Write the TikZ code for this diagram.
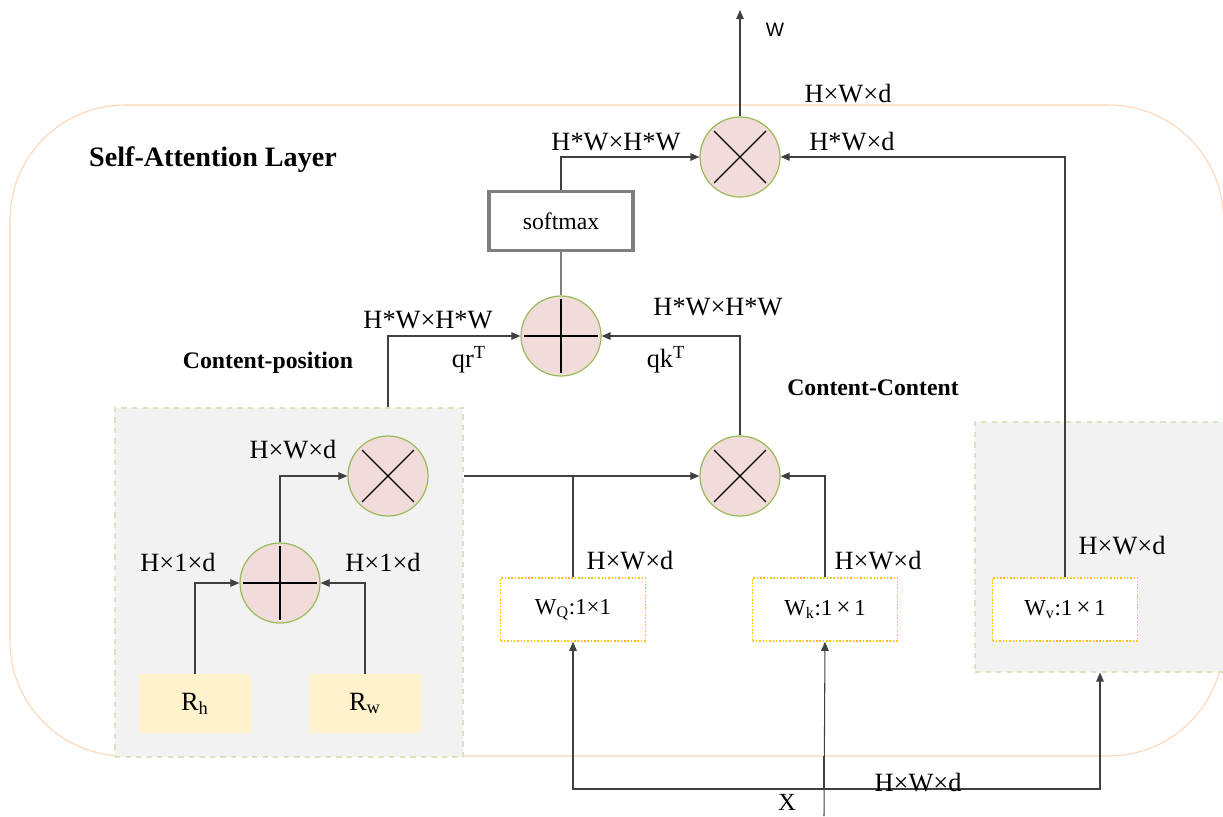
\documentclass[tikz,border=0pt]{standalone}
\usepackage{fontspec}
\setmainfont{Liberation Serif}
\newfontfamily\sanslabel{Liberation Sans}
\usetikzlibrary{arrows.meta, positioning}

\definecolor{opfill}{HTML}{F2DCDB}
\definecolor{opline}{HTML}{9BBB59}
\definecolor{grpfill}{HTML}{F2F2F2}
\definecolor{grpline}{HTML}{D7E4BD}
\definecolor{convline}{HTML}{FFC000}
\definecolor{posfill}{HTML}{FFF2CC}
\definecolor{layerline}{HTML}{FBD5B5}
\definecolor{wireline}{HTML}{404040}
\definecolor{softline}{HTML}{7F7F7F}

\begin{document}
\begin{tikzpicture}[
        x=0.2mm, y=-0.2mm,
        font=\fontsize{15}{18}\selectfont,
        mulop/.style={circle, draw=opline, fill=opfill, line width=0.7pt, minimum size=16mm, inner sep=0pt,
            path picture={\draw[black, line width=0.7pt]
                ([shift={(-26,-26)}]path picture bounding box.center) -- ([shift={(26,26)}]path picture bounding box.center)
                ([shift={(-26,26)}]path picture bounding box.center) -- ([shift={(26,-26)}]path picture bounding box.center);}},
        addop/.style={circle, draw=opline, fill=opfill, line width=0.7pt, minimum size=16mm, inner sep=0pt,
            path picture={\draw[black, line width=0.7pt]
                ([shift={(-37,0)}]path picture bounding box.center) -- ([shift={(37,0)}]path picture bounding box.center)
                ([shift={(0,-37)}]path picture bounding box.center) -- ([shift={(0,37)}]path picture bounding box.center);}},
        grpbox/.style={rectangle, draw=grpline, dashed, fill=grpfill, line width=0.6pt, inner sep=0pt},
        convbox/.style={rectangle, draw=convline, densely dotted, fill=white, line width=0.9pt, minimum width=29mm, minimum height=12.6mm, font=\fontsize{13}{15}\selectfont},
        posbox/.style={rectangle, fill=posfill, minimum width=22.4mm, minimum height=11.8mm},
        softbox/.style={rectangle, draw=softline, line width=2.2pt, fill=white, minimum width=28.8mm, minimum height=11.8mm, font=\fontsize{13.5}{16}\selectfont},
        wire/.style={draw=wireline, line width=0.6pt},
        arrow/.style={wire, -{Triangle[length=1.8mm, width=1.5mm]}},
        heading/.style={font=\fontsize{16}{19}\selectfont\bfseries, inner sep=0pt},
        subheading/.style={font=\fontsize{13.5}{16}\selectfont\bfseries, inner sep=0pt},
        dim/.style={inner sep=0pt}
    ]
    \useasboundingbox (0,0) rectangle (1223,816);

    % layer frame and groups
    \draw[layerline, line width=0.6pt, rounded corners=23mm] (10,105) rectangle (1223.5,756);
    \node (posgrp) [grpbox, minimum width=69.6mm, minimum height=69.8mm] at (289,582.5) {};
    \node (vgrp) [grpbox, minimum width=51mm, minimum height=50mm] at (1102.5,547) {};

    % operators
    \node (mulTop) [mulop] at (740,157) {};
    \node (addMid) [addop] at (561,336) {};
    \node (mulCC) [mulop] at (740,476) {};
    \node (mulPos) [mulop] at (388,476) {};
    \node (addPos) [addop] at (280,583) {};

    % boxes
    \node (softmax) [softbox] at (561,221) {softmax};
    \node (wq) [convbox] at (573,609.5) {W\textsubscript{Q}:1×1};
    \node (wk) [convbox] at (825,609.5) {W\textsubscript{k}:1\,{\Large×}\,1};
    \node (wv) [convbox] at (1065,609.5) {W\textsubscript{v}:1\,{\Large×}\,1};
    \node (rh) [posbox] at (195,703.5) {R\textsubscript{h}};
    \node (rw) [posbox] at (365,703.5) {R\textsubscript{w}};

    % free ends
    \coordinate (outW) at (740,10);
    \coordinate (xin) at (824,816);
    \coordinate (bus) at (824,789);

    % connectors
    \draw[arrow] (mulTop) -- (outW);
    \draw[arrow] (softmax.north) |- (mulTop.west);
    \draw[wire, draw=gray] (addMid.north) -- (softmax.south);
    \draw[arrow] (wv.north) |- (mulTop.east);
    \draw[arrow] (posgrp.north -| mulPos) |- (addMid.west);
    \draw[arrow] (mulCC.north) |- (addMid.east);
    \draw[arrow] (posgrp.east |- mulPos) -- (mulCC.west);
    \draw[wire] (wq.north) -- (wq.north |- mulCC);
    \draw[arrow] (wk.north) |- (mulCC.east);
    \draw[arrow] (addPos.north) |- (mulPos.west);
    \draw[arrow] (rh.north) |- (addPos.west);
    \draw[arrow] (rw.north) |- (addPos.east);
    \draw[arrow] (xin) -- (wk.south);
    \draw[wire, line width=1.4pt] (bus) -- ++(0,-33);
    \draw[arrow] (bus) -| (wq.south);
    \draw[arrow] (bus) -| (vgrp.south -| 1100,0);

    % labels
    \node (lblW) [dim, font=\sanslabel\fontsize{11}{13}\selectfont] at (775,30) {W};
    \node (lblX) [dim, font=\fontsize{14}{16}\selectfont] at (787,802) {X};
    \node (title) [heading] at (213,160) {Self-Attention Layer};
    \node (cpos) [subheading] at (268,363) {Content-position};
    \node (ccon) [subheading] at (873,388) {Content-Content};
    \node (dimOut) [dim] at (848,94) {H×W×d};
    \node (dimAttn) [dim] at (616,142) {H*W×H*W};
    \node (dimV) [dim] at (852,142) {H*W×d};
    \node (dimQR) [dim] at (428,320) {H*W×H*W};
    \node (dimQK) [dim] at (718,307) {H*W×H*W};
    \node (lblQR) [dim] at (469,360) {qr\textsuperscript{T}};
    \node (lblQK) [dim] at (666,360) {qk\textsuperscript{T}};
    \node (dimPos) [dim] at (293,450) {H×W×d};
    \node (dimRh) [dim] at (178,562) {H×1×d};
    \node (dimRw) [dim] at (383,562) {H×1×d};
    \node (dimQ) [dim] at (630,561) {H×W×d};
    \node (dimK) [dim] at (878,561) {H×W×d};
    \node (dimVin) [dim] at (1122,546) {H×W×d};
    \node (dimX) [dim] at (918,783) {H×W×d};
\end{tikzpicture}
\end{document}
